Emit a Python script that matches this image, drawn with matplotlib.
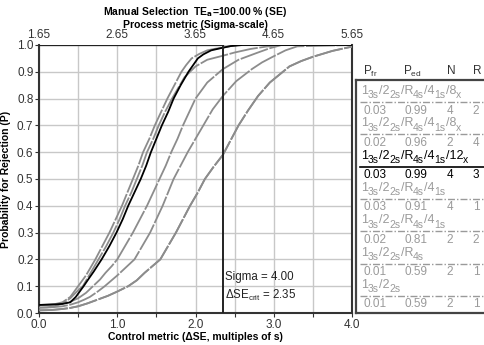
import matplotlib
matplotlib.use("Agg")
import matplotlib.pyplot as plt

plt.rcParams['font.family'] = ['Liberation Sans', 'DejaVu Sans']

# power curves: shift in SE multiples -> probability for rejection
dse_1 = [0, 0.1, 0.2, 0.3, 0.4, 0.5, 0.6, 0.72, 0.81, 0.9, 0.98, 1.06, 1.13, 1.2, 1.27, 1.33, 1.41, 1.48,
         1.56, 1.64, 1.73, 1.82, 1.88, 1.95, 2.05, 2.15, 2.25, 2.35, 2.45, 2.55, 4.0]
p_1 = [0.03, 0.031, 0.033, 0.04, 0.06, 0.1, 0.14, 0.2, 0.25, 0.3, 0.35, 0.4, 0.45, 0.5, 0.55, 0.6, 0.65,
       0.7, 0.75, 0.8, 0.85, 0.9, 0.925, 0.95, 0.967, 0.98, 0.986, 0.99, 0.996, 1.0, 1.0]

dse_2 = [0, 0.1, 0.2, 0.3, 0.4, 0.5, 0.56, 0.66, 0.76, 0.86, 0.95, 1.03, 1.1, 1.18, 1.25, 1.32, 1.38, 1.46,
         1.53, 1.61, 1.70, 1.78, 1.86, 2.0, 2.15, 2.35, 2.5, 2.7, 2.9, 3.1, 4.0]
p_2 = [0.02, 0.021, 0.025, 0.035, 0.055, 0.085, 0.1, 0.15, 0.2, 0.25, 0.3, 0.35, 0.4, 0.45, 0.5, 0.55, 0.6,
       0.65, 0.7, 0.75, 0.8, 0.84, 0.88, 0.92, 0.945, 0.96, 0.972, 0.985, 0.994, 1.0, 1.0]

dse_3 = [0, 0.1, 0.2, 0.3, 0.4, 0.47, 0.57, 0.64, 0.7, 0.8, 0.9, 0.99, 1.07, 1.14, 1.22, 1.3, 1.37, 1.43,
         1.5, 1.57, 1.65, 1.72, 1.81, 1.91, 2.03, 2.1, 2.2, 2.35, 2.45, 2.6, 4.0]
p_3 = [0.03, 0.031, 0.032, 0.034, 0.04, 0.06, 0.1, 0.13, 0.155, 0.2, 0.25, 0.3, 0.35, 0.4, 0.45, 0.5, 0.55,
       0.6, 0.65, 0.7, 0.75, 0.8, 0.85, 0.9, 0.95, 0.965, 0.98, 0.99, 0.996, 1.0, 1.0]

dse_4 = [0, 0.15, 0.3, 0.4, 0.5, 0.6, 0.69, 0.78, 0.85, 0.93, 1.0, 1.1, 1.2, 1.29, 1.38, 1.46, 1.54, 1.62,
         1.69, 1.77, 1.84, 1.92, 2.0, 2.15, 2.35, 2.55, 2.78, 2.95, 3.1, 4.0]
p_4 = [0.03, 0.031, 0.035, 0.042, 0.055, 0.075, 0.1, 0.125, 0.15, 0.175, 0.2, 0.25, 0.3, 0.35, 0.4, 0.45,
       0.5, 0.55, 0.6, 0.65, 0.7, 0.75, 0.8, 0.86, 0.91, 0.945, 0.97, 0.988, 1.0, 1.0]

dse_5 = [0, 0.15, 0.3, 0.4, 0.5, 0.58, 0.65, 0.75, 0.84, 0.92, 1.0, 1.11, 1.22, 1.32, 1.42, 1.5, 1.58, 1.65,
         1.72, 1.81, 1.9, 2.0, 2.1, 2.22, 2.35, 2.52, 2.72, 2.85, 2.98, 3.15, 3.3, 4.0]
p_5 = [0.02, 0.021, 0.025, 0.031, 0.04, 0.05, 0.06, 0.08, 0.1, 0.12, 0.14, 0.17, 0.2, 0.25, 0.3, 0.35, 0.4,
       0.45, 0.5, 0.55, 0.6, 0.65, 0.7, 0.76, 0.81, 0.865, 0.91, 0.935, 0.955, 0.98, 0.995, 1.0]

dse_6 = [0, 0.15, 0.3, 0.4, 0.5, 0.62, 0.75, 0.88, 1.0, 1.14, 1.25, 1.35, 1.45, 1.55, 1.65, 1.75, 1.84, 1.93,
         2.03, 2.12, 2.23, 2.35, 2.45, 2.55, 2.67, 2.8, 2.95, 3.2, 3.35, 3.5, 3.75, 4.0]
p_6 = [0.01, 0.011, 0.015, 0.019, 0.025, 0.036, 0.05, 0.064, 0.08, 0.1, 0.122, 0.15, 0.175, 0.2, 0.25, 0.3,
       0.35, 0.4, 0.45, 0.5, 0.545, 0.59, 0.645, 0.7, 0.755, 0.81, 0.86, 0.92, 0.94, 0.956, 0.978, 0.994]

dse_7 = dse_6
p_7 = p_6

# rule labels as (main, subscript) pieces
rules = [[("1", "3s"), ("/2", "2s"), ("/R", "4s"), ("/4", "1s"), ("/8", "x")],
         [("1", "3s"), ("/2", "2s"), ("/R", "4s"), ("/4", "1s"), ("/8", "x")],
         [("1", "3s"), ("/2", "2s"), ("/R", "4s"), ("/4", "1s"), ("/12", "x")],
         [("1", "3s"), ("/2", "2s"), ("/R", "4s"), ("/4", "1s")],
         [("1", "3s"), ("/2", "2s"), ("/R", "4s"), ("/4", "1s")],
         [("1", "3s"), ("/2", "2s"), ("/R", "4s")],
         [("1", "3s"), ("/2", "2s")]]
p_fr = ["0.03", "0.02", "0.03", "0.03", "0.02", "0.01", "0.01"]
p_ed = ["0.99", "0.96", "0.99", "0.91", "0.81", "0.59", "0.59"]
n_ctrl = ["4", "2", "4", "4", "2", "2", "2"]
n_runs = ["2", "4", "3", "1", "2", "1", "1"]
selected = 2

sigma = 4.00
dse_crit = 2.35
sigma_ticks = [1.65, 2.65, 3.65, 4.65, 5.65]

curves = [(dse_1, p_1), (dse_2, p_2), (dse_3, p_3), (dse_4, p_4),
          (dse_5, p_5), (dse_6, p_6), (dse_7, p_7)]

W, H = 485, 345
fig = plt.figure(figsize=(W / 100, H / 100), dpi=100)
renderer = fig.canvas.get_renderer()
ax = fig.add_axes([39 / W, (H - 313) / H, (352 - 39) / W, (313 - 45) / H])

gray = '#8c8c8c'
for i, (x, y) in enumerate(curves):
    if i == selected:
        continue
    ax.plot(x, y, color=gray, lw=1.3, ls=(0, (16, 0.9)), zorder=3)
ax.plot(curves[selected][0], curves[selected][1], color='black', lw=1.3, zorder=4)

# critical shift marker
ax.plot([dse_crit, dse_crit], [0, 1], color='#222222', lw=1.4, zorder=5)
ax.plot([0, dse_crit], [1, 1], color='#222222', lw=1.6, zorder=5)

ax.set_xlim(0, 4)
ax.set_ylim(0, 1)
ax.set_xticks([i * 0.5 for i in range(9)])
ax.set_xticklabels(["0.0", "", "1.0", "", "2.0", "", "3.0", "", "4.0"])
ax.set_yticks([i / 10 for i in range(11)])
ax.set_yticklabels([f"{i / 10:.1f}" for i in range(11)])
ax.grid(True, color='#c8c8c8', lw=1.0, zorder=0)
ax.set_axisbelow(True)
ax.tick_params(labelsize=8.5, colors='#333333', length=3, width=0.8, pad=1)
for s in ['left', 'bottom', 'right']:
    ax.spines[s].set_color('#333333')
    ax.spines[s].set_linewidth(1.5)
ax.spines['top'].set_visible(False)
ax.set_xlabel("Control metric (\u0394SE, multiples of s)", fontsize=7.5, fontweight='bold', labelpad=1)
ax.set_ylabel("Probability for Rejection (P)", fontsize=7.5, fontweight='bold', labelpad=4)

top = ax.secondary_xaxis('top', functions=(lambda d: d + 1.65, lambda s: s - 1.65))
top.set_xticks(sigma_ticks)
top.set_xticklabels([f"{t:.2f}" for t in sigma_ticks])
top.tick_params(labelsize=8.5, colors='#333333', length=0, pad=3)
top.spines['top'].set_visible(False)

fig.text(195 / W, 1 - 12 / H, r"Manual Selection  TE$_\mathbf{a}$=100.00 % (SE)", ha='center', va='center',
         fontsize=7.5, fontweight='bold')
fig.text(195 / W, 1 - 25 / H, "Process metric (Sigma-scale)", ha='center', va='center',
         fontsize=7.5, fontweight='bold')

ax.text(2.38, 0.135, f"Sigma = {sigma:.2f}", fontsize=8.3, va='center', color='#222222')
ax.text(2.38, 0.065, r"$\mathregular{\Delta SE_{crit}}$ = " + f"{dse_crit:.2f}", fontsize=8.3, va='center',
        color='#222222')

# rule table on the right
tab = fig.add_axes([356 / W, (H - 313) / H, (492 - 356) / W, (313 - 80) / H])
tab.set_xlim(356, 492)
tab.set_ylim(313, 80)
tab.set_xticks([])
tab.set_yticks([])
for s in tab.spines.values():
    s.set_color('#444444')
    s.set_linewidth(1.6)

for col, x in zip([r"P$_\mathregular{fr}$", r"P$_\mathregular{ed}$", "N", "R"], [363, 403, 447, 473]):
    fig.text(x / W, 1 - 71 / H, col, fontsize=8.5, va='center', ha='left', color='#333333')


def draw_rule(x, y, pieces, color):
    for main, sub in pieces:
        t = tab.text(x, y, main, fontsize=9, color=color, va='baseline', ha='left')
        x += t.get_window_extent(renderer).width
        t = tab.text(x, y + 4.5, sub, fontsize=7.5, color=color, va='baseline', ha='left')
        x += t.get_window_extent(renderer).width


for i in range(len(rules)):
    y0 = 94 + 32.3 * i
    c = 'black' if i == selected else '#9a9a9a'
    draw_rule(361, y0, rules[i], c)
    if i == selected:
        tab.plot([360, 492], [y0 + 8, y0 + 8], color='black', lw=1.2)
    else:
        tab.plot([360, 492], [y0 + 8, y0 + 8], color='#9a9a9a', lw=1.0, ls=(0, (5, 1.5, 1, 1.5)))
    yv = y0 + 16.5
    tab.text(364, yv, p_fr[i], fontsize=8.5, color=c, va='center', ha='left')
    tab.text(416, yv, p_ed[i], fontsize=8.5, color=c, va='center', ha='center')
    tab.text(450, yv, n_ctrl[i], fontsize=8.5, color=c, va='center', ha='center')
    tab.text(476, yv, n_runs[i], fontsize=8.5, color=c, va='center', ha='center')

fig.savefig("out.png", dpi=100)
